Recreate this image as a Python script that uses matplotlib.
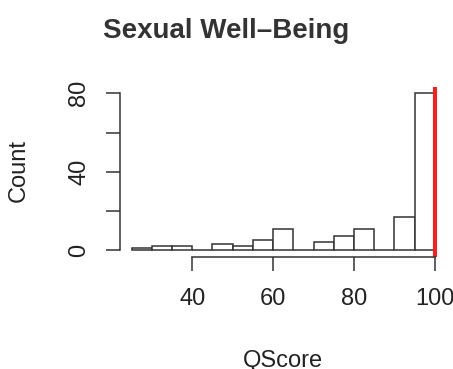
import matplotlib
matplotlib.use('Agg')
import matplotlib.pyplot as plt

# histogram of QScore, bins of width 5
bin_left = [25, 30, 35, 40, 45, 50, 55, 60, 65, 70, 75, 80, 85, 90, 95]
counts = [1, 2, 2, 0, 3, 2, 5, 11, 0, 4, 7, 11, 0, 17, 80]
bin_width = 5
cutoff = 100

x_ticks = [40, 60, 80, 100]
y_ticks = [0, 20, 40, 60, 80]
y_labels = ['0', '', '40', '', '80']

plt.rcParams['font.family'] = ['Liberation Sans', 'DejaVu Sans']
ink = '#333333'

fig = plt.figure(figsize=(4.53, 3.69), dpi=100)
ax = fig.add_axes([119.5 / 453, 1 - 256.5 / 369, (447 - 119.5) / 453, (256.5 - 87) / 369])

ax.bar(bin_left, counts, width=bin_width, align='edge',
       facecolor='white', edgecolor=ink, linewidth=1.1)
ax.axvline(cutoff, color='#e8261f', linewidth=3)

ax.set_xlim(22, 103)
ax.set_ylim(-3.2, 83.2)

for s in ['top', 'right']:
    ax.spines[s].set_visible(False)
ax.spines['left'].set_bounds(0, 80)
ax.spines['bottom'].set_bounds(40, 100)
for s in ['left', 'bottom']:
    ax.spines[s].set_color(ink)
    ax.spines[s].set_linewidth(1.1)

ax.set_xticks(x_ticks)
ax.set_xticklabels([str(t) for t in x_ticks])
ax.set_yticks(y_ticks)
ax.set_yticklabels(y_labels)
ax.tick_params(axis='both', direction='out', length=10, width=1.1,
               color=ink, labelsize=17, labelcolor='#222222')
ax.tick_params(axis='x', pad=13)
ax.tick_params(axis='y', pad=11)
for lab in ax.get_yticklabels():
    lab.set_rotation(90)
    lab.set_va('center')

fig.text(0.5, 1 - 38 / 369, 'Sexual Well\u2013Being', ha='center', va='baseline',
         fontsize=20, fontweight='bold', color='#333333')
fig.text(283 / 453, 1 - 367 / 369, 'QScore', ha='center', va='baseline',
         fontsize=17, color='#222222')
fig.text(25 / 453, 1 - 170 / 369, 'Count', ha='center', va='baseline',
         rotation=90, rotation_mode='anchor', fontsize=17, color='#222222')

fig.savefig('out.png', dpi=100)
